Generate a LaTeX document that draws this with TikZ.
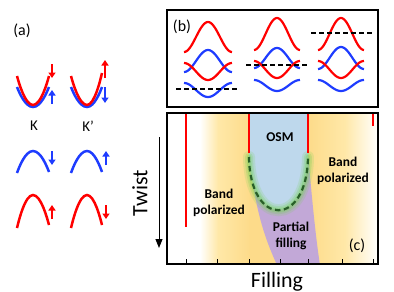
\documentclass[tikz,border=0pt]{standalone}
\usepackage{fontspec}
\setmainfont{Carlito}
\usetikzlibrary{arrows.meta}
\definecolor{myred}{RGB}{255,0,0}
\definecolor{myblue}{RGB}{30,60,255}
\definecolor{osmblue}{RGB}{190,216,236}
\definecolor{pfpurple}{RGB}{194,168,215}
\definecolor{ylight}{RGB}{255,232,168}
\definecolor{yorange}{RGB}{253,219,138}
\definecolor{glowgreen}{RGB}{120,210,90}
\definecolor{dgreen}{RGB}{40,95,40}
\newcommand\bandcurve[5]{\draw[#5,bandline] plot[domain=-#2:#2,samples=41] ({#1+\x},{#3+(#4-#3)*(1+cos(\x*180/#2))/2});}
\begin{document}
\begin{tikzpicture}[x=1bp,y=-1bp,
  bandline/.style={line width=2.2bp},
  parab/.style={line width=2.5bp},
  spin/.style={line width=1.8bp,-{Triangle[width=7bp,length=5.5bp]}},
  fermi/.style={black,line width=1.8bp,dash pattern=on 5bp off 3bp},
  panelbox/.style={draw=black,line width=2.4bp},
  lbl/.style={inner sep=0pt},
  boldlbl/.style={inner sep=0pt,font=\fontsize{13.5}{16.5}\selectfont\bfseries,align=center},
  redline/.style={myred,line width=2bp}]
\useasboundingbox (0,0) rectangle (394,292);
% ---------- panel (a)
\node[lbl,font=\fontsize{16}{16}\selectfont] (la) at (22,31) {(a)};
% K upper
\draw[myblue,parab] (17,87) parabola bend (33,107) (49,87);
\draw[myred,parab] (17,76) parabola bend (33,105) (49,76);
\coordinate (k1a) at (52,64); \coordinate (k1b) at (52,78);
\draw[myred,spin] (k1a) -- (k1b);
\coordinate (k2a) at (52,104); \coordinate (k2b) at (52,90);
\draw[myblue,spin] (k2a) -- (k2b);
% K' upper
\draw[myblue,parab] (71,87) parabola bend (87,107) (102,87);
\draw[myred,parab] (71,76) parabola bend (87,105) (102,73);
\coordinate (k3a) at (105,78); \coordinate (k3b) at (105,60);
\draw[myred,spin] (k3a) -- (k3b);
\coordinate (k4a) at (105,87); \coordinate (k4b) at (105,103);
\draw[myblue,spin] (k4a) -- (k4b);
\node[lbl,font=\fontsize{15}{15}\selectfont] (kk) at (34,126) {K};
\node[lbl,font=\fontsize{15}{15}\selectfont] (kp) at (88,126) {K’};
% row 2 blue
\draw[myblue,parab] (17,173) parabola bend (33,151) (49,172);
\coordinate (k5a) at (52,151); \coordinate (k5b) at (52,165);
\draw[myblue,spin] (k5a) -- (k5b);
\draw[myblue,parab] (71,173) parabola bend (87,151) (102,172);
\coordinate (k6a) at (106,165); \coordinate (k6b) at (106,151);
\draw[myblue,spin] (k6a) -- (k6b);
% row 3 red
\draw[myred,parab] (17,228) parabola bend (33,195) (49,225);
\coordinate (k7a) at (52,219); \coordinate (k7b) at (52,205);
\draw[myred,spin] (k7a) -- (k7b);
\draw[myred,parab] (71,228) parabola bend (87,195) (102,225);
\coordinate (k8a) at (106,205); \coordinate (k8b) at (106,219);
\draw[myred,spin] (k8a) -- (k8b);
% Twist arrow
\node[lbl,rotate=90,font=\fontsize{22}{22}\selectfont] (tw) at (140,193) {Twist};
\coordinate (ta) at (159,137); \coordinate (tb) at (159,248);
\draw[line width=1bp,-{Triangle[width=7bp,length=9bp]}] (ta) -- (tb);
% ---------- panel (b)
\draw[panelbox] (167,10) rectangle (378,107);
\node[lbl,font=\fontsize{16}{16}\selectfont] (lb) at (182,27) {(b)};
% column 1
\bandcurve{208}{24}{52}{22}{myred}
\bandcurve{208}{24}{72}{50}{myblue}
\bandcurve{208}{24}{63}{80}{myred}
\bandcurve{208}{24}{83}{97}{myblue}
\coordinate (f1a) at (176,89); \coordinate (f1b) at (240,89);
\draw[fermi] (f1a) -- (f1b);
% column 2
\bandcurve{277}{23}{50}{18}{myred}
\bandcurve{277}{23}{68}{48}{myblue}
\bandcurve{277}{23}{61}{78}{myred}
\bandcurve{277}{23}{80}{91}{myblue}
\coordinate (f2a) at (246,65); \coordinate (f2b) at (310,65);
\draw[fermi] (f2a) -- (f2b);
% column 3
\bandcurve{341}{23}{50}{18}{myred}
\bandcurve{341}{23}{69}{47}{myblue}
\bandcurve{341}{23}{61}{78}{myred}
\bandcurve{341}{23}{80}{91}{myblue}
\coordinate (f3a) at (311,33); \coordinate (f3b) at (374,33);
\draw[fermi] (f3a) -- (f3b);
% ---------- panel (c)
\begin{scope}
\clip (167,113) rectangle (378,264);
\shade[left color=white,right color=ylight] (200,113) rectangle (218,264);
\shade[left color=ylight,right color=yorange] (218,113) rectangle (250,264);
\fill[yorange] (249,113) rectangle (309,264);
\shade[left color=yorange,right color=ylight] (308,113) rectangle (345,264);
\shade[left color=ylight,right color=white] (345,113) rectangle (378,264);
% partial filling
\fill[pfpurple] (250,158) .. controls (255,215) and (268,245) .. (277,265)
  -- (320,265) .. controls (316,240) and (312,200) .. (308,153) -- cycle;
% OSM
\fill[osmblue] (249,112) -- (249,155) .. controls (250,228) and (307,228) .. (308,155) -- (308,112) -- cycle;
% glow
\draw[glowgreen,line width=12bp,opacity=0.18,line cap=round] (249,157) .. controls (250,228) and (307,228) .. (308,157);
\draw[glowgreen,line width=8bp,opacity=0.25,line cap=round] (249,157) .. controls (250,228) and (307,228) .. (308,157);
\draw[glowgreen,line width=4.5bp,opacity=0.35,line cap=round] (249,157) .. controls (250,228) and (307,228) .. (308,157);
\draw[dgreen,line width=2.2bp,dash pattern=on 5.5bp off 3.5bp] (249,157) .. controls (250,228) and (307,228) .. (308,157);
% red lines
\coordinate (r1a) at (186,113); \coordinate (r1b) at (186,227);
\draw[redline] (r1a) -- (r1b);
\coordinate (r2a) at (249,113); \coordinate (r2b) at (249,153);
\draw[redline] (r2a) -- (r2b);
\coordinate (r3a) at (308,113); \coordinate (r3b) at (308,153);
\draw[redline] (r3a) -- (r3b);
\coordinate (r4a) at (373,113); \coordinate (r4b) at (373,126);
\draw[redline] (r4a) -- (r4b);
% ticks
\foreach \t in {186,217,249,280,308,342,373} \draw[line width=1bp] (\t,264) -- (\t,259);
\end{scope}
\draw[panelbox] (167,113) rectangle (378,264);
\node[boldlbl] (osm) at (280,137) {OSM};
\node[boldlbl] (bpl) at (219,203) {Band\\polarized};
\node[boldlbl] (bpr) at (343,171) {Band\\polarized};
\node[boldlbl] (pf) at (291,236) {Partial\\filling};
\node[lbl,font=\fontsize{16}{16}\selectfont] (lc) at (357,246) {(c)};
\node[lbl,font=\fontsize{22}{22}\selectfont] (fill) at (277,282) {Filling};
\end{tikzpicture}
\end{document}
